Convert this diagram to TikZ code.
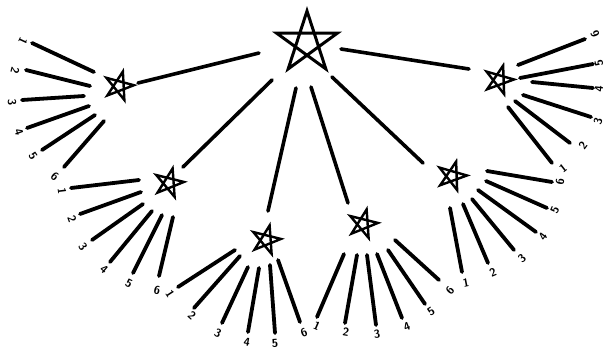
\documentclass[tikz,border=0pt]{standalone}
\usetikzlibrary{calc}
\tikzset{
  starline/.style={line width=2.4pt, line join=miter, black},
  bigstarline/.style={line width=3pt, line join=miter, black},
  conn/.style={line width=3.6pt, line cap=round, black},
  rayline/.style={line width=3.8pt, line cap=round, black},
  lab/.style={font=\fontsize{11.5}{11.5}\selectfont\sffamily\bfseries, inner sep=0pt}
}
\newcommand\pentagram[4]{%
  \draw[#4] ($(#1)+(#3-90:#2)$) -- ($(#1)+(#3+54:#2)$) -- ($(#1)+(#3+198:#2)$)
    -- ($(#1)+(#3+342:#2)$) -- ($(#1)+(#3+486:#2)$) -- cycle;}
\newcommand\sray[9]{%
  \draw[rayline] ($(#1)+(#2,#3)$) -- ($(#1)+(#4,#5)$);
  \node[lab, rotate=#9] (#1-#8) at ($(#1)+(#6,#7)$) {#8};}
\begin{document}
\begin{tikzpicture}[x=1pt,y=-1pt]
\useasboundingbox (0,0) rectangle (606,349);
\coordinate (top) at (307,43);
\coordinate (A) at (119,86);
\coordinate (B) at (169,183);
\coordinate (C) at (266,240);
\coordinate (D) at (363,224);
\coordinate (E) at (452,176);
\coordinate (F) at (499,80);
% stars
\pentagram{top}{32}{0}{bigstarline}
\pentagram{A}{15}{15}{starline}
\pentagram{B}{15}{14}{starline}
\pentagram{C}{15}{14}{starline}
\pentagram{D}{15}{14}{starline}
\pentagram{E}{15}{16}{starline}
\pentagram{F}{15}{16}{starline}
% connectors
\draw[conn] ($(top)+(-48,10)$) -- ($(A)+(19,-3)$);
\draw[conn] ($(top)+(-35,37)$) -- ($(B)+(14,-16)$);
\draw[conn] ($(top)+(-11,45)$) -- ($(C)+(2,-29)$);
\draw[conn] ($(top)+(4,44)$) -- ($(D)+(-15,-21)$);
\draw[conn] ($(top)+(25,34)$) -- ($(E)+(-29,-13)$);
\draw[conn] ($(top)+(34,6)$) -- ($(F)+(-30,-11)$);
% star A rays
\sray{A}{-87}{-43}{-25}{-14}{-96}{-45}{1}{245}
\sray{A}{-93}{-16}{-29}{0}{-104}{-15}{2}{256}
\sray{A}{-97}{14}{-35}{10}{-107}{16}{3}{-86}
\sray{A}{-92}{42}{-30}{20}{-100}{46}{4}{-70}
\sray{A}{-77}{64}{-24}{29}{-86}{70}{5}{-57}
\sray{A}{-55}{81}{-15}{35}{-64}{91}{6}{-41}
% star B rays
\sray{B}{-98}{5}{-30}{-3}{-107}{8}{1}{-83}
\sray{B}{-89}{31}{-28}{9}{-97}{36}{2}{-70}
\sray{B}{-77}{57}{-26}{21}{-86}{64}{3}{-55}
\sray{B}{-59}{79}{-17}{28}{-65}{86}{4}{-40}
\sray{B}{-36}{90}{-7}{32}{-40}{100}{5}{-27}
\sray{B}{-10}{93}{4}{34}{-12}{107}{6}{-13}
% star C rays
\sray{C}{-88}{47}{-31}{10}{-96}{54}{1}{-57}
\sray{C}{-72}{68}{-26}{16}{-74}{76}{2}{-42}
\sray{C}{-44}{83}{-18}{27}{-48}{93}{3}{-25}
\sray{C}{-18}{92}{-7}{28}{-19}{102}{4}{-10}
\sray{C}{9}{93}{4}{25}{9}{103}{5}{4}
\sray{C}{34}{82}{12}{20}{38}{93}{6}{20}
% star D rays
\sray{D}{-46}{93}{-19}{30}{-46}{102}{1}{-23}
\sray{D}{-18}{99}{-6}{31}{-17}{108}{2}{-10}
\sray{D}{13}{101}{4}{31}{14}{110}{3}{7}
\sray{D}{39}{94}{14}{30}{44}{103}{4}{21}
\sray{D}{62}{80}{25}{26}{68}{88}{5}{34}
\sray{D}{76}{56}{32}{16}{87}{66}{6}{48}
% star E rays
\sray{E}{10}{96}{-2}{32}{14}{107}{1}{11}
\sray{E}{36}{87}{11}{28}{41}{96}{2}{23}
\sray{E}{62}{74}{20}{23}{70}{82}{3}{40}
\sray{E}{84}{56}{26}{14}{91}{61}{4}{54}
\sray{E}{95}{32}{34}{5}{103}{34}{5}{66}
\sray{E}{100}{6}{35}{-5}{108}{6}{6}{80}
% star F rays
\sray{F}{53}{83}{9}{27}{64}{88}{1}{38}
\sray{F}{71}{63}{16}{21}{84}{65}{2}{53}
\sray{F}{92}{37}{24}{15}{99}{41}{3}{72}
\sray{F}{94}{8}{33}{2}{100}{9}{4}{84}
\sray{F}{94}{-16}{21}{-2}{100}{-17}{5}{101}
\sray{F}{86}{-41}{19}{-15}{96}{-46}{6}{111}
\end{tikzpicture}
\end{document}
